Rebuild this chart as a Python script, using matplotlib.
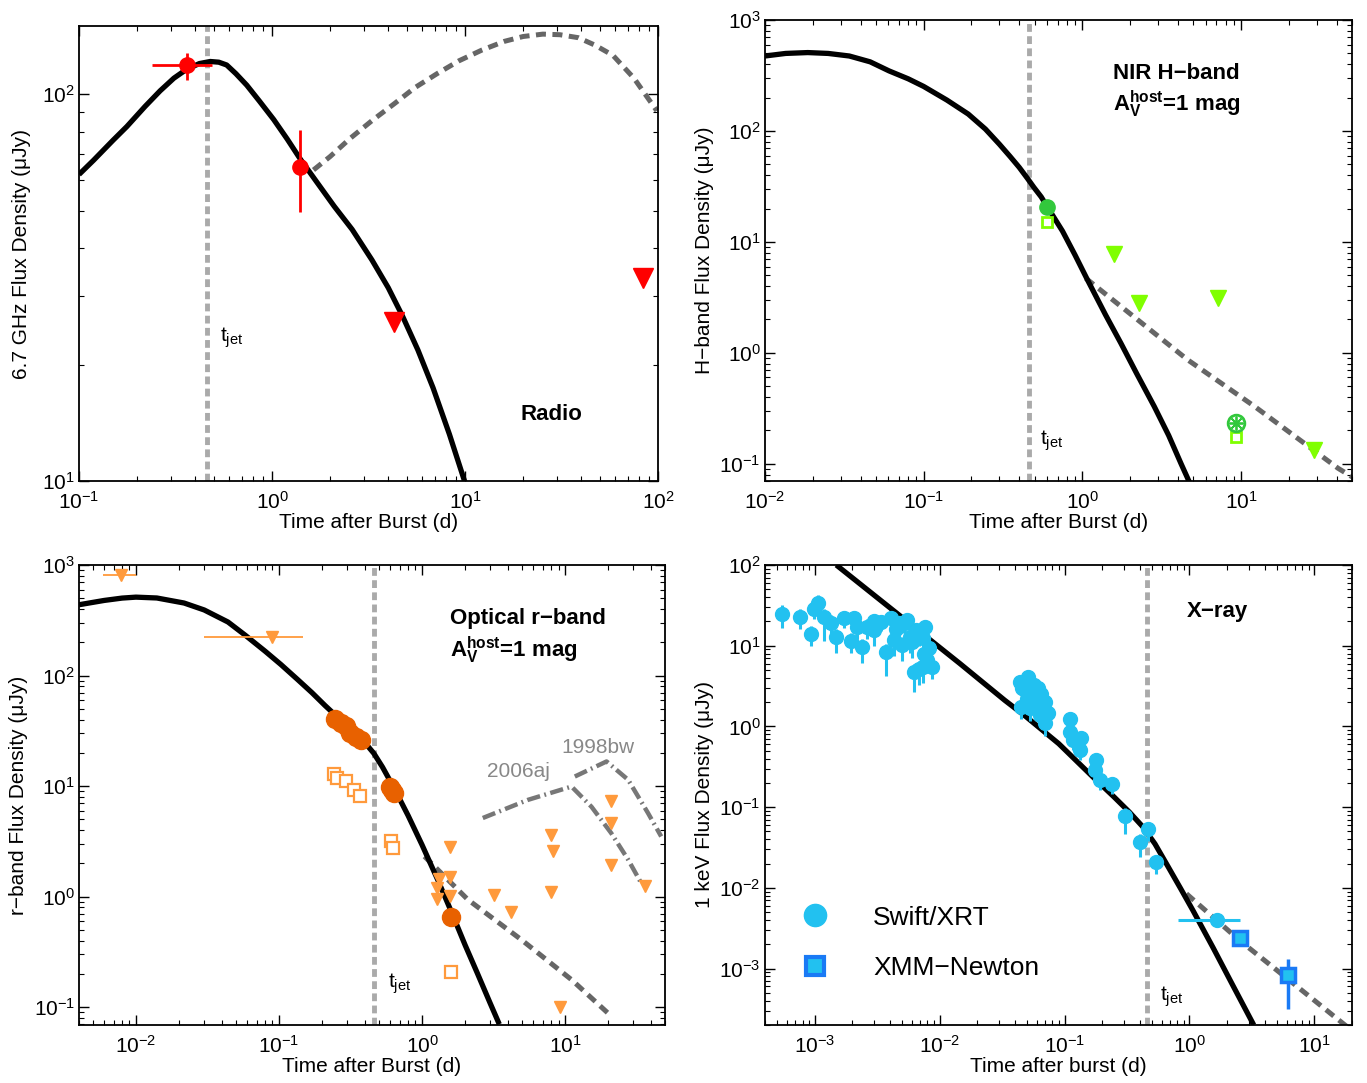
import numpy as np
import matplotlib
matplotlib.use('Agg')
import matplotlib.pyplot as plt
from matplotlib.ticker import LogLocator, NullFormatter
from matplotlib.lines import Line2D

plt.rcParams['font.family'] = ['Liberation Sans', 'DejaVu Sans']
plt.rcParams['mathtext.fontset'] = 'custom'
plt.rcParams['mathtext.rm'] = 'Liberation Sans'
plt.rcParams['mathtext.it'] = 'Liberation Sans:italic'
plt.rcParams['mathtext.bf'] = 'Liberation Sans:bold'

t_jet = 0.46

# ---- Radio 6.7 GHz ----
radio_model_t = [0.1, 0.119, 0.15, 0.177, 0.22, 0.263, 0.31, 0.361, 0.42, 0.478, 0.53, 0.582,
                 0.65, 0.74, 0.86, 1.02, 1.2, 1.4, 1.7, 2.1, 2.6, 3.29, 4.0, 4.74, 5.7, 6.83, 8.3, 10.0]
radio_model_f = [62, 67.5, 76, 82.5, 93, 102, 110, 116, 120, 121.5, 121, 119,
                 113, 105.5, 96, 86, 76.5, 68, 59.4, 51.3, 44.7, 37.3, 31.6, 26.7, 21.8, 17.4, 13.2, 9.9]
radio_dash_t = [1.64, 2.0, 2.55, 3.3, 4.3, 5.5, 7.16, 9.3, 12.2, 16, 20, 25.3, 31, 38.6, 47, 58.4, 75, 98.5]
radio_dash_f = [63.7, 69, 77, 85.5, 94.5, 104, 113, 122, 130, 137, 141, 143, 142.5, 140, 134, 126, 110, 90.6]
radio_det_t = [0.361, 1.40]
radio_det_f = [119, 64.9]
radio_det_tlo = [0.240, 1.40]
radio_det_thi = [0.486, 1.40]
radio_det_flo = [109, 49.7]
radio_det_fhi = [128, 80.7]
radio_ul_t = [4.3, 84]
radio_ul_f = [25.8, 33.4]

# ---- NIR H-band ----
h_model_t = [0.01, 0.0135, 0.0186, 0.025, 0.034, 0.046, 0.0605, 0.08, 0.1, 0.14, 0.191, 0.245,
             0.3, 0.35, 0.4, 0.45, 0.495, 0.55, 0.603, 0.75, 0.9, 1.077, 1.4, 1.75, 2.2, 2.84,
             3.5, 4.19, 4.8]
h_model_f = [474, 500, 509, 500, 474, 420, 348, 295, 252, 190, 142, 104,
             76, 59, 47, 37.5, 31, 25.5, 20.6, 12.5, 7.6, 4.55, 2.2, 1.22, 0.65, 0.328,
             0.18, 0.10, 0.065]
h_dash_t = [1.05, 4.61, 12.2, 40.9, 51]
h_dash_f = [4.71, 0.865, 0.328, 0.091, 0.075]
h_det_t = [0.603]
h_det_f = [20.6]
h_host_t = [0.603, 9.23]
h_host_f = [15.2, 0.176]
h_ul_t = [1.585, 2.28, 7.13, 28.8]
h_ul_f = [7.8, 2.84, 3.11, 0.134]
h_late_t = [9.23]
h_late_f = [0.233]

# ---- Optical r-band ----
r_model_t = [0.004, 0.006, 0.008, 0.01, 0.014, 0.0217, 0.03, 0.044, 0.058, 0.08, 0.103, 0.135,
             0.17, 0.21, 0.247, 0.3, 0.377, 0.42, 0.46, 0.53, 0.64, 0.8, 1.0, 1.3, 1.61, 2.0,
             2.44, 3.0, 3.47]
r_model_f = [437, 478, 502, 512, 503, 453, 392, 305, 232, 166, 126, 92,
             70, 53.5, 44, 35, 26.5, 22.8, 19.8, 14.8, 9.5, 5.4, 2.94, 1.38, 0.72, 0.365,
             0.202, 0.108, 0.07]
r_dash_t = [1.04, 2.09, 4.94, 11.1, 21.1]
r_dash_f = [2.31, 0.94, 0.408, 0.177, 0.0826]
sn06aj_t = [2.66, 5.5, 11.1, 15.3, 21, 27.6, 34]
sn06aj_f = [5.14, 7.5, 9.9, 6.5, 3.76, 2.16, 1.33]
sn98bw_t = [11.7, 19.5, 27.6, 38, 47]
sn98bw_f = [12.2, 16.7, 11.4, 5.7, 3.5]
r_det_t = [0.247, 0.271, 0.295, 0.316, 0.344, 0.377, 0.596, 0.618, 0.64, 1.6]
r_det_f = [40.6, 37, 35.2, 30.5, 27.8, 25.9, 9.86, 9.17, 8.66, 0.66]
r_host_t = [0.242, 0.256, 0.295, 0.334, 0.369, 0.61, 0.627, 1.6]
r_host_f = [12.8, 11.9, 11.1, 9.2, 8.2, 3.16, 2.78, 0.208]
r_ul_t = [1.58, 1.32, 1.58, 1.27, 1.58, 1.27, 3.18, 4.16, 8.0, 8.24, 8.0, 20.9, 20.9, 20.9, 36.5, 9.17]
r_ul_f = [2.81, 1.44, 1.50, 1.20, 1.02, 0.95, 1.04, 0.72, 3.58, 2.56, 1.09, 7.26, 4.63, 1.94, 1.26, 0.0996]
r_ulx_t = [0.00782, 0.089]
r_ulx_f = [818, 221]
r_ulx_tlo = [0.0059, 0.0298]
r_ulx_thi = [0.0100, 0.148]

# ---- X-ray 1 keV ----
x_model_t = [0.00149, 0.0145, 0.0332, 0.0495, 0.09, 0.169, 0.25, 0.33, 0.425, 0.53, 0.654,
             0.85, 1.07, 1.55, 2.2, 3.27]
x_model_f = [100, 6.03, 2.11, 1.31, 0.61, 0.236, 0.133, 0.087, 0.0567, 0.035, 0.0199,
             0.0098, 0.0052, 0.0018, 6.4e-4, 2.0e-4]
x_dash_t = [0.946, 2.53, 6.35, 15.9, 20]
x_dash_f = [0.00845, 0.00222, 7.1e-4, 2.26e-4, 1.7e-4]
xrt_t = [5.5e-4, 7.6e-4, 9.3e-4, 9.9e-4, 1.07e-3, 1.19e-3, 1.34e-3, 1.47e-3, 1.72e-3, 1.94e-3,
         2.06e-3, 2.2e-3, 2.41e-3, 2.64e-3, 2.98e-3, 3.0e-3, 3.37e-3, 3.70e-3, 4.06e-3, 4.31e-3,
         4.5e-3, 4.73e-3, 5.03e-3, 5.2e-3, 5.52e-3, 5.8e-3, 6.05e-3, 6.44e-3, 6.8e-3, 7.3e-3,
         7.7e-3, 7.5e-3, 7.98e-3, 8.2e-3, 7.3e-3, 8.75e-3, 6.24e-3, 6.84e-3,
         0.0437, 0.0452, 0.046, 0.048, 0.050, 0.051, 0.0526, 0.0543, 0.057, 0.0595,
         0.0613, 0.0633, 0.065, 0.0694, 0.0694, 0.0738,
         0.110, 0.110, 0.117, 0.136, 0.132, 0.178, 0.175, 0.191, 0.242, 0.303,
         0.40, 0.467, 0.537]
xrt_f = [24.7, 22.9, 13.9, 28.2, 33.5, 22.9, 18.9, 12.9, 21.8, 11.5,
         21.8, 17.0, 9.7, 16.9, 15.6, 20.0, 19.8, 8.4, 21.8, 11.7,
         16.0, 18.9, 10.2, 19.0, 20.8, 13.0, 11.2, 15.6, 14.0, 12.3,
         17.1, 8.0, 6.6, 9.5, 5.5, 5.5, 4.7, 5.2,
         3.56, 1.75, 3.0, 2.81, 2.2, 4.11, 1.67, 2.32, 3.3, 1.92,
         2.95, 1.38, 2.5, 2.01, 1.09, 1.45,
         1.25, 0.855, 0.675, 0.728, 0.507, 0.388, 0.286, 0.215, 0.192, 0.0776,
         0.0369, 0.0531, 0.0208]
xrt_dlo = [0.17, 0.15, 0.15, 0.12, 0.12, 0.30, 0.15, 0.20, 0.12, 0.15,
           0.12, 0.15, 0.20, 0.15, 0.20, 0.12, 0.12, 0.30, 0.12, 0.20,
           0.15, 0.15, 0.20, 0.12, 0.12, 0.20, 0.20, 0.15, 0.15, 0.20,
           0.12, 0.15, 0.15, 0.20, 0.20, 0.15, 0.25, 0.20,
           0.12, 0.15, 0.12, 0.12, 0.15, 0.12, 0.15, 0.12, 0.12, 0.15,
           0.12, 0.15, 0.12, 0.12, 0.15, 0.12,
           0.12, 0.12, 0.12, 0.12, 0.12, 0.12, 0.12, 0.12, 0.12, 0.22,
           0.18, 0.15, 0.15]
xrt_dhi = [0.11, 0.10, 0.10, 0.10, 0.10, 0.10, 0.10, 0.10, 0.08, 0.10,
           0.08, 0.08, 0.10, 0.10, 0.10, 0.08, 0.08, 0.10, 0.08, 0.10,
           0.08, 0.08, 0.10, 0.08, 0.08, 0.08, 0.10, 0.08, 0.08, 0.08,
           0.08, 0.10, 0.10, 0.10, 0.10, 0.10, 0.10, 0.10,
           0.08, 0.08, 0.08, 0.08, 0.08, 0.08, 0.08, 0.08, 0.08, 0.08,
           0.08, 0.08, 0.08, 0.08, 0.08, 0.08,
           0.08, 0.08, 0.08, 0.08, 0.08, 0.08, 0.08, 0.08, 0.08, 0.10,
           0.10, 0.08, 0.08]
xrt_late_t = [1.66]
xrt_late_f = [0.00402]
xrt_late_tlo = [0.81]
xrt_late_thi = [2.53]
xmm_t = [2.53, 6.1]
xmm_f = [0.0024, 8.2e-4]
xmm_flo = [0.0021, 3.16e-4]
xmm_fhi = [0.0027, 1.32e-3]

red = '#ff0000'
green_d = '#32c83c'
green_l = '#80ff00'
orange_d = '#e86100'
orange_l = '#ff9a3c'
swift = '#22c1f0'
xmm_edge = '#1a7af5'
grey_v = '#aaaaaa'
grey_m = '#666666'
grey_sn = '#777777'

FS = 15

fig = plt.figure(figsize=(13.67, 10.83), dpi=100)
ax1 = fig.add_axes([0.0578, 0.5559, 0.4236, 0.4200])
ax2 = fig.add_axes([0.5596, 0.5559, 0.4294, 0.4256])
ax3 = fig.add_axes([0.0578, 0.0536, 0.4287, 0.4247])
ax4 = fig.add_axes([0.5596, 0.0536, 0.4294, 0.4247])


def style(ax):
    ax.set_xscale('log')
    ax.set_yscale('log')
    ax.tick_params(which='both', direction='in', top=True, right=True, labelsize=FS)
    ax.tick_params(which='major', length=7, width=1)
    ax.tick_params(which='minor', length=3.5, width=0.8)
    ax.tick_params(axis='x', which='major', pad=7)
    ax.tick_params(axis='y', which='major', pad=3)
    for axis in (ax.xaxis, ax.yaxis):
        axis.set_major_locator(LogLocator(base=10, numticks=20))
        axis.set_minor_locator(LogLocator(base=10, subs=np.arange(2, 10), numticks=100))
        axis.set_minor_formatter(NullFormatter())
    for s in ax.spines.values():
        s.set_linewidth(1.3)


def tjet(ax, x, y):
    ax.axvline(t_jet, color=grey_v, lw=3.5, ls=(0, (1.6, 0.9)), zorder=1)
    ax.text(x, y, r'$\mathregular{t_{jet}}$', transform=ax.transAxes, fontsize=15,
            va='center', ha='left')


model_kw = dict(color='k', lw=3.8, zorder=3, solid_capstyle='butt', solid_joinstyle='round')
dash_kw = dict(color=grey_m, lw=3.6, ls=(0, (2.0, 1.3)), zorder=2)

# Panel 1: radio
style(ax1)
tjet(ax1, 0.244, 0.314)
ax1.plot(radio_model_t, radio_model_f, **model_kw)
ax1.plot(radio_dash_t, radio_dash_f, **dash_kw)
rt = np.array(radio_det_t)
rf = np.array(radio_det_f)
ax1.errorbar(rt, rf,
             xerr=[rt - np.array(radio_det_tlo), np.array(radio_det_thi) - rt],
             yerr=[rf - np.array(radio_det_flo), np.array(radio_det_fhi) - rf],
             fmt='o', color=red, ms=11, elinewidth=2, capsize=0, zorder=5)
ax1.plot(radio_ul_t, radio_ul_f, 'v', color=red, ms=14, zorder=5)
ax1.set_xlim(0.1, 100)
ax1.set_ylim(10, 150)
ax1.set_xlabel('Time after Burst (d)', fontsize=FS, labelpad=0)
ax1.set_ylabel('6.7 GHz Flux Density (\u03bcJy)', fontsize=FS, labelpad=8)
ax1.text(0.815, 0.147, 'Radio', transform=ax1.transAxes, fontsize=16,
         fontweight='bold', ha='center', va='center')

# Panel 2: NIR H-band
style(ax2)
tjet(ax2, 0.468, 0.087)
ax2.plot(h_model_t, h_model_f, **model_kw)
ax2.plot(h_dash_t, h_dash_f, **dash_kw)
ax2.plot(h_det_t, h_det_f, 'o', color=green_d, ms=11, zorder=5)
ax2.plot(h_host_t, h_host_f, 's', mfc='white', mec=green_l, mew=2, ms=7, zorder=5)
ax2.plot(h_ul_t, h_ul_f, 'v', color=green_l, ms=12, zorder=5)
ax2.plot(h_late_t, h_late_f, 'o', mfc='white', mec=green_d, mew=2, ms=12, zorder=5)
ax2.plot(h_late_t, h_late_f, marker=(8, 2, 0), color=green_d, mew=1.3, ms=10, ls='none', zorder=6)
ax2.set_xlim(0.01, 50)
ax2.set_ylim(0.07, 1000)
ax2.set_xlabel('Time after Burst (d)', fontsize=FS, labelpad=0)
ax2.set_ylabel('H\u2212band Flux Density (\u03bcJy)', fontsize=FS, labelpad=4)
ax2.text(0.593, 0.872, 'NIR H\u2212band', transform=ax2.transAxes, fontsize=16,
         fontweight='bold', ha='left', va='baseline')
ax2.text(0.593, 0.803, r'$\mathbf{A_V^{host}}$=1 mag', transform=ax2.transAxes, fontsize=16,
         fontweight='bold', ha='left', va='baseline')

# Panel 3: optical r-band
style(ax3)
tjet(ax3, 0.527, 0.089)
ax3.plot(r_model_t, r_model_f, **model_kw)
ax3.plot(r_dash_t, r_dash_f, **dash_kw)
sn_kw = dict(color=grey_sn, lw=3.2, ls=(0, (3.0, 1.0, 0.4, 1.0)), zorder=2)
ax3.plot(sn06aj_t, sn06aj_f, **sn_kw)
ax3.plot(sn98bw_t, sn98bw_f, **sn_kw)
ax3.text(0.886, 0.604, '1998bw', transform=ax3.transAxes, fontsize=15, color='#888888',
         ha='center', va='center')
ax3.text(0.749, 0.552, '2006aj', transform=ax3.transAxes, fontsize=15, color='#888888',
         ha='center', va='center')
ax3.plot(r_det_t, r_det_f, 'o', color=orange_d, ms=13, zorder=5)
ax3.plot(r_host_t, r_host_f, 's', mfc='white', mec=orange_l, mew=1.6, ms=8, zorder=4)
ax3.plot(r_ul_t, r_ul_f, 'v', color=orange_l, ms=8.5, zorder=5)
ut = np.array(r_ulx_t)
ax3.errorbar(ut, r_ulx_f, xerr=[ut - np.array(r_ulx_tlo), np.array(r_ulx_thi) - ut],
             fmt='v', color=orange_l, ms=8.5, elinewidth=1.3, capsize=0, zorder=5)
ax3.set_xlim(0.004, 50)
ax3.set_ylim(0.069, 1000)
ax3.set_xlabel('Time after Burst (d)', fontsize=FS, labelpad=0)
ax3.set_ylabel('r\u2212band Flux Density (\u03bcJy)', fontsize=FS, labelpad=4)
ax3.text(0.633, 0.872, 'Optical r\u2212band', transform=ax3.transAxes, fontsize=16,
         fontweight='bold', ha='left', va='baseline')
ax3.text(0.633, 0.800, r'$\mathbf{A_V^{host}}$=1 mag', transform=ax3.transAxes, fontsize=16,
         fontweight='bold', ha='left', va='baseline')

# Panel 4: X-ray
style(ax4)
tjet(ax4, 0.673, 0.061)
ax4.plot(x_model_t, x_model_f, **model_kw)
ax4.plot(x_dash_t, x_dash_f, **dash_kw)
xf = np.array(xrt_f)
ax4.errorbar(xrt_t, xf, yerr=[xf - xf / 10 ** np.array(xrt_dlo), xf * 10 ** np.array(xrt_dhi) - xf],
             fmt='o', color=swift, ms=10, elinewidth=2.2, capsize=0, zorder=5)
lt = np.array(xrt_late_t)
ax4.errorbar(lt, xrt_late_f, xerr=[lt - np.array(xrt_late_tlo), np.array(xrt_late_thi) - lt],
             fmt='o', color=swift, ms=10, elinewidth=2.2, capsize=0, zorder=5)
mf = np.array(xmm_f)
ax4.errorbar(xmm_t, mf, yerr=[mf - np.array(xmm_flo), np.array(xmm_fhi) - mf],
             fmt='s', mfc=swift, mec=xmm_edge, mew=2.5, ms=10, ecolor=xmm_edge,
             elinewidth=2.5, capsize=0, zorder=6)
ax4.set_xlim(4e-4, 20)
ax4.set_ylim(2e-4, 100)
ax4.set_xlabel('Time after burst (d)', fontsize=FS, labelpad=0)
ax4.set_ylabel('1 keV Flux Density (\u03bcJy)', fontsize=FS, labelpad=4)
ax4.text(0.77, 0.887, 'X\u2212ray', transform=ax4.transAxes, fontsize=16,
         fontweight='bold', ha='center', va='baseline')
handles = [Line2D([], [], ls='none', marker='o', color=swift, ms=16),
           Line2D([], [], ls='none', marker='s', mfc=swift, mec=xmm_edge, mew=3, ms=13)]
ax4.legend(handles, ['Swift/XRT', 'XMM\u2212Newton'], loc='lower left',
           bbox_to_anchor=(0.045, 0.075), frameon=False, fontsize=19,
           handlelength=1.0, handletextpad=1.7, labelspacing=1.0, borderaxespad=0)

fig.savefig('out.png', dpi=100)
